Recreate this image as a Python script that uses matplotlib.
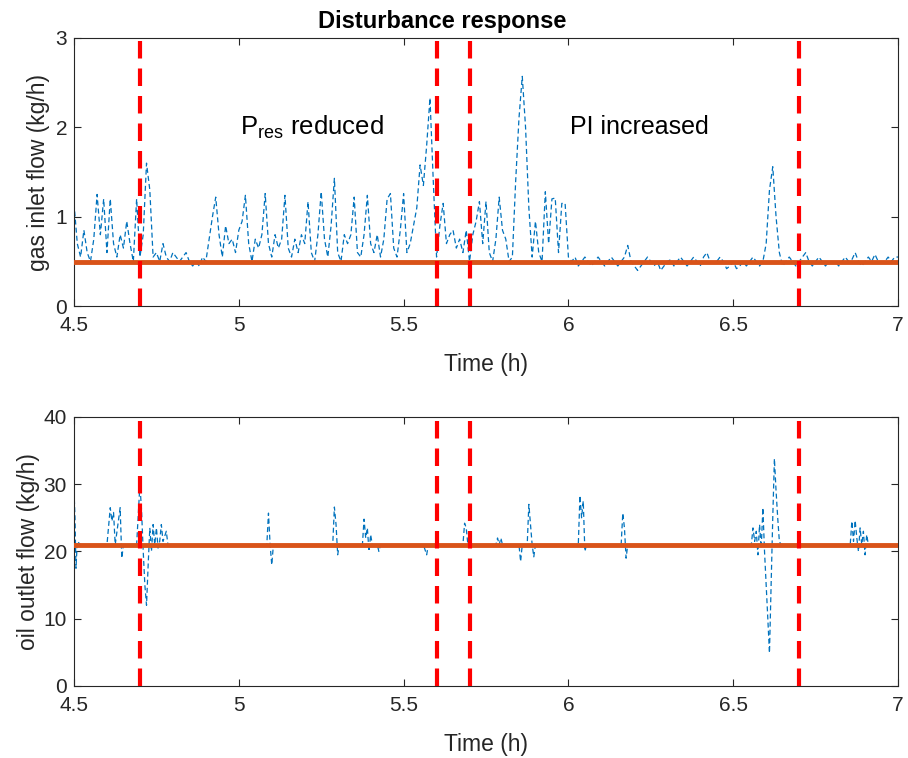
import numpy as np
import matplotlib.pyplot as plt

plt.rcParams['font.family'] = ['Liberation Sans', 'DejaVu Sans']
plt.rcParams['mathtext.fontset'] = 'custom'
plt.rcParams['mathtext.rm'] = 'Liberation Sans'
plt.rcParams['mathtext.it'] = 'Liberation Sans'

# gas inlet flow, sampled every 0.01 h from 4.50 to 7.00
gas_t = np.round(np.arange(4.50, 7.001, 0.01), 2)
gas_flow = [
    1.15, 0.7, 0.55, 0.85, 0.6, 0.5, 0.75, 1.25, 0.8, 1.2,
    0.6, 1.2, 0.7, 0.55, 0.8, 0.65, 0.95, 0.7, 0.5, 1.2,
    0.55, 0.8, 1.6, 1.3, 0.55, 0.6, 0.5, 0.7, 0.55, 0.5,
    0.6, 0.55, 0.5, 0.55, 0.6, 0.5, 0.45, 0.5, 0.45, 0.55,
    0.5, 0.75, 1.0, 1.22, 0.8, 0.55, 0.9, 0.7, 0.75, 0.6,
    0.85, 0.95, 1.24, 0.7, 0.5, 0.75, 0.65, 0.8, 1.26, 0.7,
    0.55, 0.8, 0.65, 0.75, 1.24, 0.65, 0.55, 0.75, 0.6, 0.8,
    0.7, 1.17, 0.6, 0.5, 0.8, 1.28, 0.75, 0.55, 0.9, 1.43,
    0.6, 0.5, 0.8, 0.7, 0.8, 1.22, 0.6, 0.55, 0.8, 1.24,
    0.7, 0.6, 0.8, 0.55, 0.75, 1.2, 1.26, 0.65, 0.55, 0.85,
    1.26, 0.6, 0.7, 0.9, 1.1, 1.58, 1.35, 1.8, 2.33, 1.4,
    0.55, 0.9, 1.15, 0.7, 0.8, 0.85, 0.65, 0.75, 0.6, 0.85,
    0.5, 0.8, 0.95, 1.17, 0.7, 1.17, 0.6, 0.5, 0.75, 1.22,
    0.85, 0.75, 0.5, 0.55, 1.4, 2.1, 2.57, 2.0, 1.1, 0.55,
    0.95, 0.6, 0.5, 1.28, 0.7, 1.2, 1.21, 0.6, 1.15, 1.15,
    0.55, 0.5, 0.55, 0.45, 0.5, 0.55, 0.5, 0.45, 0.5, 0.55,
    0.5, 0.45, 0.5, 0.55, 0.5, 0.45, 0.5, 0.55, 0.68, 0.5,
    0.45, 0.4, 0.45, 0.5, 0.55, 0.5, 0.45, 0.5, 0.4, 0.45,
    0.5, 0.52, 0.45, 0.5, 0.55, 0.5, 0.45, 0.5, 0.55, 0.5,
    0.45, 0.55, 0.6, 0.5, 0.48, 0.5, 0.55, 0.5, 0.42, 0.45,
    0.5, 0.42, 0.45, 0.5, 0.45, 0.5, 0.55, 0.5, 0.45, 0.5,
    0.7, 1.3, 1.56, 1.0, 0.6, 0.45, 0.5, 0.55, 0.5, 0.45,
    0.5, 0.55, 0.6, 0.5, 0.45, 0.5, 0.55, 0.5, 0.45, 0.5,
    0.48, 0.5, 0.45, 0.5, 0.55, 0.5, 0.52, 0.6, 0.5, 0.45,
    0.5, 0.55, 0.5, 0.58, 0.5, 0.48, 0.5, 0.55, 0.5, 0.55,
    0.55,
]
gas_setpoint = 0.5

# oil outlet flow, read at irregular times
oil_t = [
    4.500, 4.503, 4.506, 4.510, 4.520, 4.600, 4.610, 4.615, 4.620, 4.625,
    4.640, 4.645, 4.650, 4.690, 4.700, 4.705, 4.710, 4.715, 4.720, 4.725,
    4.730, 4.735, 4.740, 4.745, 4.750, 4.755, 4.760, 4.765, 4.770, 4.780,
    4.785, 4.800, 5.085, 5.090, 5.095, 5.100, 5.105, 5.285, 5.290, 5.295,
    5.300, 5.305, 5.375, 5.380, 5.385, 5.390, 5.395, 5.400, 5.405, 5.420,
    5.425, 5.430, 5.560, 5.570, 5.575, 5.680, 5.685, 5.690, 5.695, 5.780,
    5.785, 5.790, 5.795, 5.800, 5.850, 5.855, 5.860, 5.875, 5.880, 5.885,
    5.890, 5.895, 5.900, 6.030, 6.035, 6.040, 6.045, 6.050, 6.055, 6.160,
    6.165, 6.170, 6.175, 6.180, 6.555, 6.560, 6.565, 6.570, 6.575, 6.580,
    6.585, 6.590, 6.595, 6.600, 6.605, 6.610, 6.615, 6.620, 6.625, 6.630,
    6.635, 6.640, 6.645, 6.650, 6.855, 6.860, 6.865, 6.870, 6.875, 6.880,
    6.885, 6.890, 6.895, 6.900, 6.905, 6.910, 7.000,
]
oil_flow = [
    29, 25, 17.5, 21.5, 21, 21, 26.5, 24.5, 25.8, 21,
    26.5, 19, 21, 21, 30, 26, 20, 15, 12, 18,
    23.5, 20, 24, 21, 23.5, 20.5, 21.5, 24, 21.5, 23,
    21, 21, 21, 25.7, 21, 18, 21, 21, 26.6, 24,
    19.5, 21, 21, 24.8, 22, 23.5, 20, 22.5, 21, 21,
    20, 21, 21, 19.5, 21, 21, 24.2, 23.5, 21, 21,
    22, 21, 22, 21, 21, 18.5, 21, 21, 27, 24,
    21, 19.2, 21, 21, 28.3, 25, 27.5, 20, 21, 21,
    25.7, 23.5, 19, 21, 21, 23.5, 21.5, 23, 19.5, 24,
    20.5, 26.5, 20, 15, 10, 4.9, 15, 25, 33.8, 29,
    25, 21.5, 21, 21, 21, 24.5, 21.5, 24.6, 22, 20,
    23.5, 21, 23, 19.5, 22.5, 21, 21,
]
oil_setpoint = 21

event_times = [4.7, 5.6, 5.7, 6.7]

blue = '#0072BD'
orange = '#D95319'

fig = plt.figure(figsize=(9.08, 7.58), dpi=100)
ax1 = fig.add_axes([0.0815, 0.596, 0.9075, 0.354])
ax2 = fig.add_axes([0.0815, 0.095, 0.9075, 0.355])


def style(ax, ylim, yticks, ylabel, label_x):
    ax.set_xlim(4.5, 7)
    ax.set_ylim(*ylim)
    ax.set_xticks([4.5, 5, 5.5, 6, 6.5, 7])
    ax.set_xticklabels(['4.5', '5', '5.5', '6', '6.5', '7'])
    ax.set_yticks(yticks)
    ax.tick_params(direction='in', top=True, right=True, labelsize=15,
                   length=5, width=0.8, color='#262626', labelcolor='#262626')
    ax.tick_params(axis='x', pad=7)
    ax.tick_params(axis='y', pad=5)
    for s in ax.spines.values():
        s.set_color('#262626')
        s.set_linewidth(0.8)
    ax.set_xlabel('Time (h)', fontsize=16.5, color='#262626', labelpad=13)
    ax.set_ylabel(ylabel, fontsize=16.5, color='#262626')
    ax.yaxis.set_label_coords(label_x, 0.5)
    for t in event_times:
        ax.axvline(t, color='#FF0000', linestyle=(0, (4.2, 2.4)), linewidth=3, zorder=4)


ax1.plot(gas_t, gas_flow, color=blue, linestyle='--', linewidth=0.9, dashes=(4, 2.5), zorder=2)
ax1.axhline(gas_setpoint, color=orange, linewidth=3.5, zorder=3)
style(ax1, (0, 3), [0, 1, 2, 3], 'gas inlet flow (kg/h)', -0.029)
ax1.set_title('Disturbance response', fontsize=17, fontweight='bold', pad=7, x=0.447)
ax1.text(5.005, 2.0, r'P$_{\mathrm{res}}$ reduced', fontsize=18.5, ha='left', va='center')
ax1.text(6.005, 2.0, 'PI increased', fontsize=18, ha='left', va='center')

ax2.plot(oil_t, oil_flow, color=blue, linestyle='--', linewidth=0.9, dashes=(4, 2.5), zorder=2)
ax2.axhline(oil_setpoint, color=orange, linewidth=3.5, zorder=3)
style(ax2, (0, 40), [0, 10, 20, 30, 40], 'oil outlet flow (kg/h)', -0.041)

fig.savefig('out.png', dpi=100)
